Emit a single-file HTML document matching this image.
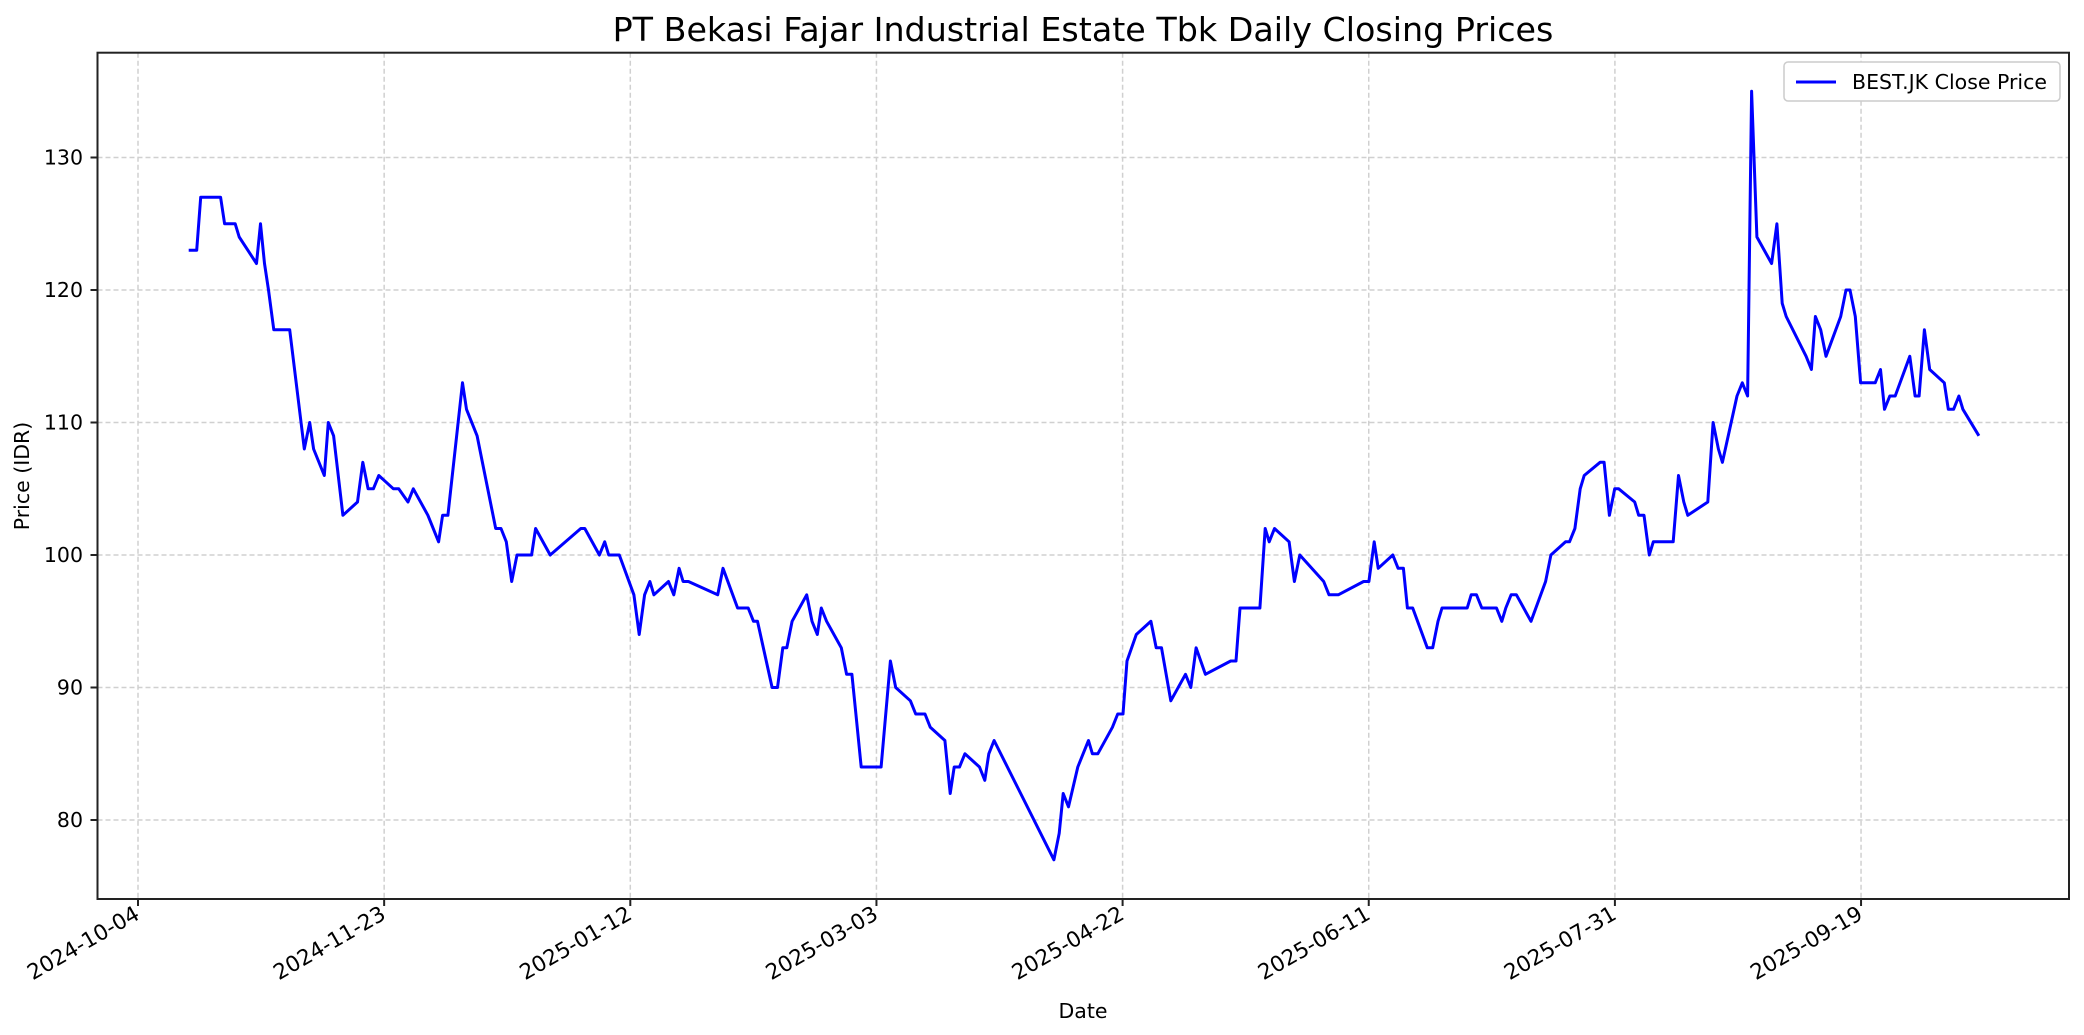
<!DOCTYPE html>
<html><head><meta charset="utf-8"><style>body{margin:0;background:#fff}svg{display:block}text{font-family:"DejaVu Sans","Liberation Sans",sans-serif;fill:#000}</style></head>
<body>
<svg id="s" width="2084" height="1035" viewBox="0 0 2084 1035" xmlns="http://www.w3.org/2000/svg">
<rect width="2084" height="1035" fill="#fff"/>
<g id="grid" stroke="#d0d0d0" stroke-width="1.5" stroke-dasharray="5,3"></g>
<polyline id="line" fill="none" stroke="#0000ff" stroke-width="3" stroke-linejoin="round"/>
<rect x="97.5" y="52.7" width="1971.5" height="846.3" fill="none" stroke="#222" stroke-width="2"/>
<g id="ticks" stroke="#222" stroke-width="2"></g>
<g id="labels" font-size="20.5"></g>
<g id="xlabels" font-size="21.5"></g>
<text x="1083" y="41" font-size="33.3" text-anchor="middle">PT Bekasi Fajar Industrial Estate Tbk Daily Closing Prices</text>
<text x="1083" y="1018" font-size="20.5" text-anchor="middle">Date</text>
<text transform="translate(29,476) rotate(-90)" font-size="20.5" text-anchor="middle">Price (IDR)</text>
<rect x="1784" y="62" width="276" height="39" rx="4" fill="#fff" stroke="#ccc" stroke-width="1.5"/>
<line x1="1796" y1="82" x2="1836" y2="82" stroke="#0000ff" stroke-width="3"/>
<text x="1852" y="89" font-size="20.5">BEST.JK Close Price</text>
</svg>
<script>
var ns="http://www.w3.org/2000/svg";
function Y(v){return 157.5+(130-v)*13.25;}
function el(p,t,a,txt){var e=document.createElementNS(ns,t);for(var k in a)e.setAttribute(k,a[k]);if(txt)e.textContent=txt;document.getElementById(p).appendChild(e);}
var L=97.5,R=2069,T=52.7,B=899;
[80,90,100,110,120,130].forEach(function(v){var y=Y(v);
el("grid","line",{x1:L,x2:R,y1:y,y2:y});el("ticks","line",{x1:L-7,x2:L,y1:y,y2:y});
el("labels","text",{x:83,y:y+7,"text-anchor":"end"},String(v));});
var d=["2024-10-04","2024-11-23","2025-01-12","2025-03-03","2025-04-22","2025-06-11","2025-07-31","2025-09-19"];
d.forEach(function(s,i){var x=138+i*50*4.923;
el("grid","line",{x1:x,x2:x,y1:T,y2:B});el("ticks","line",{x1:x,x2:x,y1:B,y2:B+7});
el("xlabels","text",{transform:"translate("+(x+3)+","+(B+19)+") rotate(-30)","text-anchor":"end"},s);});
var p=[142,123,148,123,151,127,166,127,169,125,177,125,180,124,193,122,196,125,199,122,202,120,206,117,218,117,229,108,233,110,236,108,244,106,247,110,251,109,258,103,269,104,273,107,277,105,281,105,285,106,296,105,300,105,307,104,311,105,322,103,330,101,333,103,337,103,348,113,351,111,359,109,363,107,373,102,377,102,381,101,385,98,389,100,400,100,403,102,414,100,437,102,440,102,451,100,455,101,458,100,466,100,477,97,481,94,485,97,489,98,492,97,503,98,507,97,511,99,514,98,518,98,540,97,544,99,555,96,563,96,567,95,570,95,581,90,585,90,589,93,592,93,596,95,607,97,611,95,615,94,618,96,622,95,633,93,637,91,641,91,644,88,648,84,663,84,670,92,674,90,685,89,689,88,696,88,700,87,711,86,715,82,718,84,722,84,726,85,737,84,741,83,744,85,748,86,793,77,797,79,800,82,804,81,811,84,815,85,819,86,822,85,826,85,837,87,841,88,845,88,848,92,855,94,866,95,870,93,874,93,881,89,892,91,896,90,900,93,907,91,926,92,930,92,933,96,948,96,952,102,955,101,959,102,970,101,974,98,978,100,996,98,1000,97,1007,97,1026,98,1030,98,1034,101,1037,99,1048,100,1052,99,1056,99,1059,96,1063,96,1074,93,1078,93,1082,95,1085,96,1104,96,1107,97,1111,97,1115,96,1126,96,1130,95,1133,96,1137,97,1141,97,1152,95,1163,98,1167,100,1178,101,1181,101,1185,102,1189,105,1192,106,1204,107,1207,107,1211,103,1215,105,1218,105,1230,104,1233,103,1237,103,1241,100,1244,101,1259,101,1263,106,1267,104,1270,103,1285,104,1289,110,1293,108,1296,107,1307,112,1311,113,1315,112,1318,135,1322,124,1333,122,1337,125,1341,119,1344,118,1359,115,1363,114,1366,118,1370,117,1374,115,1385,118,1389,120,1392,120,1396,118,1400,113,1411,113,1415,114,1418,111,1422,112,1426,112,1437,115,1441,112,1444,112,1448,117,1452,114,1463,113,1466,111,1470,111,1474,112,1477,111,1489,109];
var pts=[];for(var i=0;i<p.length;i+=2)pts.push((p[i]*1.329).toFixed(1)+","+Y(p[i+1]).toFixed(1));
document.getElementById("line").setAttribute("points",pts.join(" "));
</script>
</body></html>
